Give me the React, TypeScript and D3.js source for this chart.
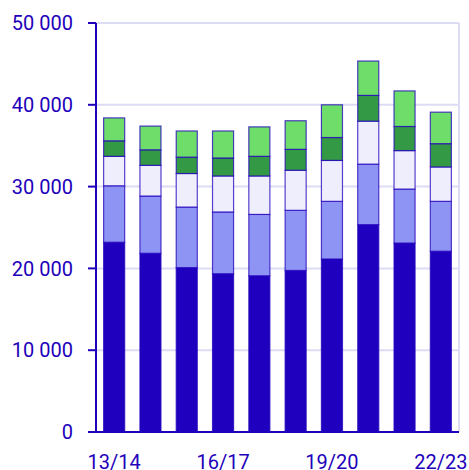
import React, { useEffect, useRef } from 'react';
import * as d3 from 'd3';

const years = ['13/14', '14/15', '15/16', '16/17', '17/18', '18/19', '19/20', '20/21', '21/22', '22/23'];
const shownLabels = ['13/14', '16/17', '19/20', '22/23'];
const yTicks = [0, 10000, 20000, 30000, 40000, 50000];

// stacked series, bottom to top
const seriesA = [23200, 21850, 20100, 19350, 19100, 19750, 21150, 25350, 23100, 22100];
const seriesB = [6900, 7000, 7400, 7550, 7500, 7350, 7050, 7400, 6600, 6100];
const seriesC = [3600, 3750, 4100, 4400, 4700, 4900, 5000, 5250, 4700, 4200];
const seriesD = [1900, 1900, 2000, 2200, 2400, 2550, 2800, 3150, 2950, 2850];
const seriesE = [2800, 2900, 3200, 3300, 3600, 3500, 4000, 4200, 4350, 3850];

const colors = ['#2000bf', '#8e94f3', '#eeeefd', '#339944', '#6edd6a'];

const App = () => {
  const ref = useRef<SVGSVGElement>(null);

  useEffect(() => {
    if (!ref.current) return;
    const width = 469;
    const height = 470;
    const margin = { left: 96, right: 10, top: 23, bottom: 38 };

    const svg = d3.select(ref.current).attr('width', width).attr('height', height);
    svg.selectAll('*').remove();

    const rows = years.map((y, i) => ({
      year: y, a: seriesA[i], b: seriesB[i], c: seriesC[i], d: seriesD[i], e: seriesE[i],
    }));
    const keys = ['a', 'b', 'c', 'd', 'e'];
    const stacked = d3.stack<any>().keys(keys)(rows);

    const x = d3.scaleBand().domain(years).range([margin.left, width - margin.right]).paddingInner(0.42).paddingOuter(0.21);
    const y = d3.scaleLinear().domain([0, 50000]).range([height - margin.bottom, margin.top]);

    const textColor = '#2200bb';
    const font = 'Roboto, sans-serif';

    // gridlines
    svg.append('g').selectAll('line').data(yTicks.slice(1)).enter().append('line')
      .attr('x1', margin.left).attr('x2', width - margin.right)
      .attr('y1', d => y(d)).attr('y2', d => y(d))
      .attr('stroke', '#dcdcf4').attr('stroke-width', 2);
    svg.append('line')
      .attr('x1', width - margin.right).attr('x2', width - margin.right)
      .attr('y1', y(50000)).attr('y2', y(0))
      .attr('stroke', '#dcdcf4').attr('stroke-width', 2);

    // bars
    svg.append('g').selectAll('g').data(stacked).enter().append('g')
      .attr('fill', (_d, i) => colors[i])
      .selectAll('rect').data(d => d).enter().append('rect')
      .attr('x', d => x(d.data.year)!)
      .attr('width', x.bandwidth())
      .attr('y', d => y(d[1]))
      .attr('height', d => y(d[0]) - y(d[1]))
      .attr('stroke', '#2200bb').attr('stroke-opacity', 0.75).attr('stroke-width', 1.2);

    // y axis
    svg.append('line')
      .attr('x1', margin.left).attr('x2', margin.left)
      .attr('y1', y(50000)).attr('y2', y(0))
      .attr('stroke', textColor).attr('stroke-width', 2);
    svg.append('g').selectAll('line').data(yTicks).enter().append('line')
      .attr('x1', margin.left - 8).attr('x2', margin.left)
      .attr('y1', d => y(d)).attr('y2', d => y(d))
      .attr('stroke', textColor).attr('stroke-width', 2);
    svg.append('g').selectAll('text').data(yTicks).enter().append('text')
      .attr('x', 73).attr('y', d => y(d)).attr('dy', '0.36em')
      .attr('text-anchor', 'end')
      .attr('font-family', font).attr('font-size', 20).attr('fill', textColor)
      .text(d => d3.format(',')(d).replace(/,/g, ' '));

    // x axis
    svg.append('line')
      .attr('x1', margin.left - 8).attr('x2', width - margin.right)
      .attr('y1', y(0)).attr('y2', y(0))
      .attr('stroke', textColor).attr('stroke-width', 2);
    svg.append('g').selectAll('text').data(shownLabels).enter().append('text')
      .attr('x', d => x(d)! + x.bandwidth() / 2).attr('y', 469)
      .attr('text-anchor', 'middle')
      .attr('font-family', font).attr('font-size', 20).attr('fill', textColor)
      .text(d => d);
  }, []);

  return (
    <div style={{ position: 'absolute', left: 0, top: 0 }}>
      <svg ref={ref} style={{ display: 'block' }}></svg>
    </div>
  );
};

export default App;
